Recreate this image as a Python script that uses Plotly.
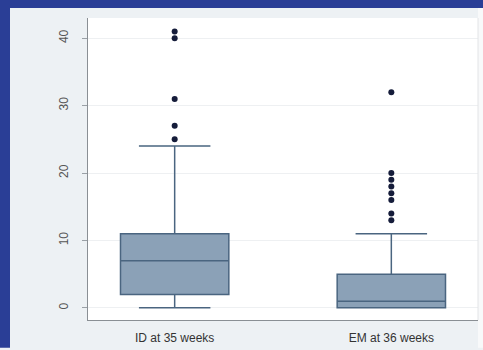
import plotly.graph_objects as go

categories = ["ID at 35 weeks", "EM at 36 weeks"]
q1 = [2, 0]
median = [7, 1]
q3 = [11, 5]
lower_whisker = [0, 0]
upper_whisker = [24, 11]
outliers_id = [25, 27, 31, 40, 41]
outliers_em = [13, 14, 16, 17, 18, 19, 20, 32]
y_ticks = [0, 10, 20, 30, 40]

box_fill = "#8ba1b7"
box_line = "#4a6580"
dot_color = "#151c3a"
frame_blue = "#2a3e96"
panel_bg = "#edf1f4"

fig = go.Figure()
fig.add_trace(go.Box(
    x=categories,
    q1=q1, median=median, q3=q3,
    lowerfence=lower_whisker, upperfence=upper_whisker,
    boxpoints=False, width=0.5, whiskerwidth=0.66,
    fillcolor=box_fill, line=dict(color=box_line, width=1.5),
    showlegend=False, hoverinfo="skip",
))
fig.add_trace(go.Scatter(
    x=[categories[0]] * len(outliers_id) + [categories[1]] * len(outliers_em),
    y=outliers_id + outliers_em,
    mode="markers", marker=dict(color=dot_color, size=6),
    showlegend=False, hoverinfo="skip",
))

# plot area in pixels: x 88..478, y 18..322
L, R, T, B = 88, 478, 18, 322
W, H = 483, 350
pw, ph = R - L, B - T
def px(x):
    return (x - L) / pw
def py(y):
    return (B - y) / ph

shapes = [
    dict(type="rect", xref="paper", yref="paper", x0=px(478), x1=px(483), y0=py(8), y1=py(350),
         fillcolor="#f8f9fa", line=dict(width=0), layer="below"),
    dict(type="rect", xref="paper", yref="paper", x0=px(0), x1=px(10), y0=py(0), y1=py(350),
         fillcolor=frame_blue, line=dict(width=0), layer="below"),
    dict(type="rect", xref="paper", yref="paper", x0=px(0), x1=px(483), y0=py(0), y1=py(8),
         fillcolor=frame_blue, line=dict(width=0), layer="below"),
    dict(type="line", xref="paper", yref="paper", x0=1, x1=1, y0=0, y1=1,
         line=dict(color="#e2e4e6", width=1)),
]

fig.update_layout(
    width=W, height=H,
    margin=dict(l=L, r=W - R, t=T, b=H - B, pad=0),
    paper_bgcolor=panel_bg, plot_bgcolor="white",
    shapes=shapes,
    xaxis=dict(type="category", range=[-0.4, 1.4], showgrid=False, zeroline=False,
               showline=True, linecolor="#8a8f94", linewidth=1.2, ticks="",
               ticklabelstandoff=6,
               tickfont=dict(family="Liberation Sans, Arial", size=12, color="#333333")),
    yaxis=dict(range=[-1.8, 43], tickvals=y_ticks, ticktext=[str(v) for v in y_ticks],
               tickangle=-90, showgrid=True, gridcolor="#eef0f2", gridwidth=1,
               zeroline=False, showline=True, linecolor="#8a8f94", linewidth=1.2,
               ticks="outside", ticklen=5, tickcolor="#9aa0a6",
               ticklabelstandoff=9,
               tickfont=dict(family="Liberation Sans, Arial", size=12, color="#555555")),
)

fig.write_html("out.html", config={"displayModeBar": False},
               post_script="document.body.style.margin='0';document.body.style.overflow='hidden';")
